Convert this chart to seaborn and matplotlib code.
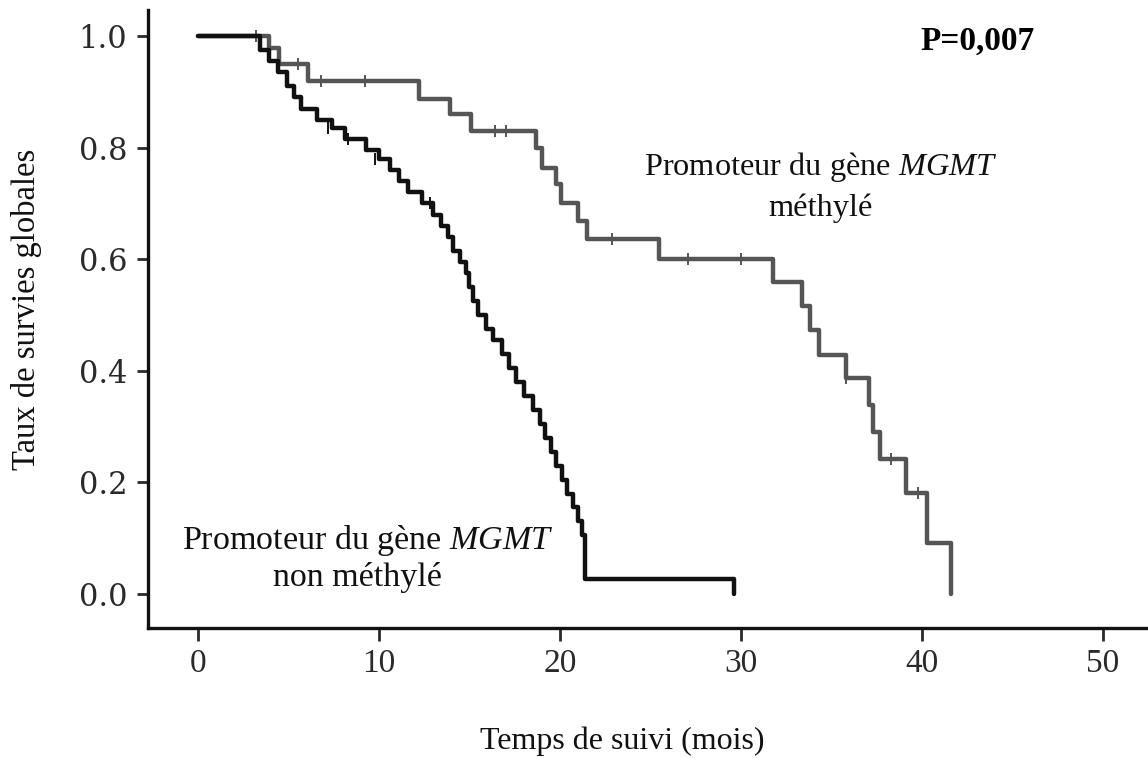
import numpy as np
import pandas as pd
import matplotlib
matplotlib.use('Agg')
import matplotlib.pyplot as plt
import seaborn as sns

# Kaplan-Meier steps (time in months, survival after the step)
meth_time = [0, 3.9, 4.5, 6.1, 12.2, 13.9, 15.1, 18.7, 19.0, 19.8, 20.05, 21.0, 21.5,
             25.45, 31.8, 33.4, 33.8, 34.3, 35.8, 37.1, 37.3, 37.7, 39.1, 40.3, 41.6]
meth_surv = [1.0, 0.978, 0.95, 0.92, 0.888, 0.86, 0.83, 0.80, 0.764, 0.735, 0.70, 0.668, 0.636,
             0.60, 0.56, 0.516, 0.473, 0.428, 0.387, 0.339, 0.29, 0.242, 0.181, 0.091, 0.0]
meth_cens_time = [3.2, 5.5, 6.8, 9.2, 16.4, 17.0, 22.9, 27.1, 30.0, 35.8, 38.3, 39.8]
meth_cens_surv = [1.0, 0.95, 0.92, 0.92, 0.83, 0.83, 0.636, 0.60, 0.60, 0.387, 0.242, 0.181]

unmeth_time = [0, 3.4, 3.9, 4.4, 4.9, 5.3, 5.7, 6.6, 7.4, 8.1, 9.3, 10.0, 10.6, 11.1, 11.6,
               12.4, 13.0, 13.4, 13.8, 14.1, 14.5, 14.8, 15.0, 15.2, 15.5, 15.9, 16.3, 16.8,
               17.2, 17.6, 18.0, 18.5, 18.9, 19.2, 19.5, 19.8, 20.1, 20.4, 20.7, 21.0, 21.2,
               21.4, 29.6]
unmeth_surv = [1.0, 0.975, 0.955, 0.935, 0.91, 0.89, 0.87, 0.85, 0.835, 0.815, 0.795, 0.78,
               0.76, 0.74, 0.72, 0.70, 0.68, 0.66, 0.64, 0.615, 0.595, 0.575, 0.55, 0.525, 0.50,
               0.475, 0.455, 0.43, 0.405, 0.38, 0.355, 0.33, 0.305, 0.28, 0.255, 0.23, 0.205,
               0.18, 0.155, 0.13, 0.105, 0.027, 0.0]
unmeth_cens_time = [7.2, 8.3, 9.8, 12.8]
unmeth_cens_surv = [0.835, 0.815, 0.78, 0.70]

x_ticks = [0, 10, 20, 30, 40, 50]
y_ticks = [0.0, 0.2, 0.4, 0.6, 0.8, 1.0]

sns.set_style('ticks')
plt.rcParams['font.family'] = ['Liberation Serif', 'DejaVu Serif']
plt.rcParams['mathtext.fontset'] = 'custom'
plt.rcParams['mathtext.rm'] = 'Liberation Serif'
plt.rcParams['mathtext.it'] = 'Liberation Serif:italic'

fig = plt.figure(figsize=(11.48, 7.58), dpi=100)
ax = fig.add_axes([0.129, 0.1715, 0.871, 0.8155])

meth_color = '#555555'
unmeth_color = '#111111'

sns.lineplot(x=meth_time, y=meth_surv, drawstyle='steps-post', estimator=None,
             color=meth_color, linewidth=3.2, ax=ax)
sns.lineplot(x=unmeth_time, y=unmeth_surv, drawstyle='steps-post', estimator=None,
             color=unmeth_color, linewidth=3.2, ax=ax)
sns.scatterplot(x=meth_cens_time, y=meth_cens_surv, marker='|', s=70, linewidth=1.4,
                color=meth_color, ax=ax)
sns.scatterplot(x=unmeth_cens_time, y=unmeth_cens_surv, marker='|', s=70, linewidth=1.4,
                color=unmeth_color, ax=ax)

ax.set_xlim(-2.76, 52.5)
ax.set_ylim(-0.061, 1.047)
ax.set_xticks(x_ticks)
ax.set_yticks(y_ticks)
ax.set_yticklabels([f'{v:.1f}' for v in y_ticks], fontfamily='DejaVu Serif')
ax.tick_params(axis='y', labelsize=22, length=8, width=2, pad=7, colors='#2a2a2a')
ax.tick_params(axis='x', labelsize=24, length=9, width=2, pad=6, colors='#2a2a2a')

for side in ['top', 'right']:
    ax.spines[side].set_visible(False)
for side in ['left', 'bottom']:
    ax.spines[side].set_linewidth(2.4)
    ax.spines[side].set_color('#111111')

ax.set_xlabel('Temps de suivi (mois)', fontsize=23, color='#111111')
ax.xaxis.set_label_coords(0.474, -0.16)
ax.set_ylabel('Taux de survies globales', fontsize=23.5, color='#111111')
ax.yaxis.set_label_coords(-0.106, 0.515)

ax.text(34.4, 0.765, r'Promoteur du gène $\mathit{MGMT}$', fontsize=23.3,
        ha='center', va='center', color='#111111')
ax.text(34.4, 0.692, 'méthylé', fontsize=23.3, ha='center', va='center', color='#111111')
ax.text(9.4, 0.095, r'Promoteur du gène $\mathit{MGMT}$', fontsize=24.5,
        ha='center', va='center', color='#111111')
ax.text(8.8, 0.029, 'non méthylé', fontsize=24.5, ha='center', va='center', color='#111111')
ax.text(43.1, 0.99, 'P=0,007', fontsize=24, fontweight='bold',
        ha='center', va='center', color='#000000')

fig.savefig('out.png', dpi=100, facecolor='white')
